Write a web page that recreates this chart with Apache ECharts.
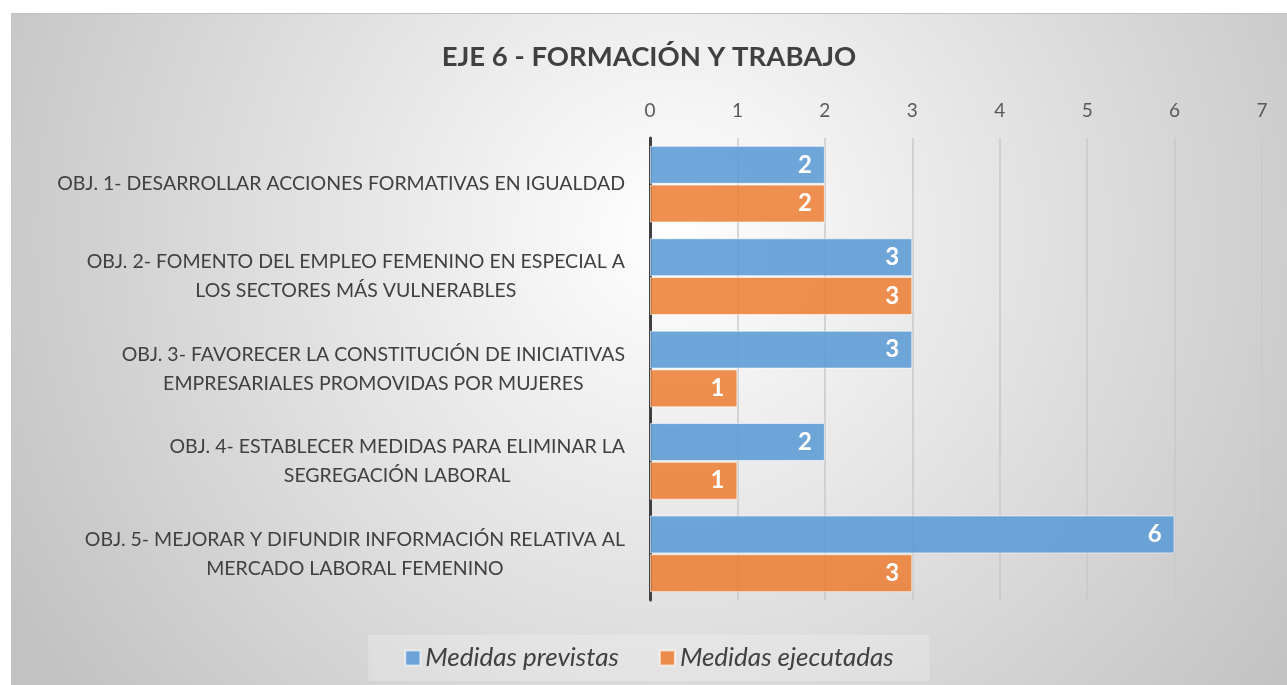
<!DOCTYPE html>
<html>
<head>
<meta charset="utf-8">
<script src="https://cdn.jsdelivr.net/npm/echarts@6/dist/echarts.min.js"></script>
<style>
html,body{margin:0;padding:0;background:#ffffff;}
#chart{position:absolute;left:11px;top:13px;width:1276px;height:672px;border-top:1px solid #c0c0c0;box-sizing:border-box;}
</style>
</head>
<body>
<div id="chart"></div>
<script>
var titleText = 'EJE 6 - FORMACIÓN Y TRABAJO';
var categories = [
  'OBJ. 1- DESARROLLAR ACCIONES FORMATIVAS EN IGUALDAD',
  'OBJ. 2- FOMENTO DEL EMPLEO FEMENINO EN ESPECIAL A\nLOS SECTORES MÁS VULNERABLES',
  'OBJ. 3- FAVORECER LA CONSTITUCIÓN DE INICIATIVAS\nEMPRESARIALES PROMOVIDAS POR MUJERES',
  'OBJ. 4- ESTABLECER MEDIDAS PARA ELIMINAR LA\nSEGREGACIÓN LABORAL',
  'OBJ. 5- MEJORAR Y DIFUNDIR INFORMACIÓN RELATIVA AL\nMERCADO LABORAL FEMENINO'
];
var seriesNames = ['Medidas previstas', 'Medidas ejecutadas'];
var previstas = [2, 3, 3, 2, 6];
var ejecutadas = [2, 3, 1, 1, 3];

var FONT = 'Lato, "Open Sans", sans-serif';
var chart = echarts.init(document.getElementById('chart'));
var labelStyle = {show:true, position:'insideRight', distance:13, color:'#ffffff', fontSize:24, fontWeight:'bold', fontFamily:FONT};
chart.setOption({
  backgroundColor: {type:'radial', x:660, y:220, r:760, global:true,
    colorStops:[{offset:0,color:'#ffffff'},{offset:1,color:'#c2c2c2'}]},
  title:{text:titleText, left:'center', top:24,
    textStyle:{fontFamily:FONT, fontSize:27.5, fontWeight:'bold', color:'#404040'}},
  legend:{bottom:4, left:'center', icon:'rect', itemWidth:15, itemHeight:15, itemGap:40,
    padding:[10,36], backgroundColor:'rgba(255,255,255,0.22)',
    textStyle:{fontFamily:FONT, fontSize:26, fontStyle:'italic', color:'#404040'},
    data:seriesNames},
  grid:{left:639, right:25, top:124, bottom:85},
  xAxis:{type:'value', position:'top', min:0, max:7, interval:1,
    axisLine:{show:false}, axisTick:{show:false},
    axisLabel:{fontFamily:FONT, fontSize:19, color:'#595959', margin:18},
    splitLine:{show:true, lineStyle:{color:'#c8c8c8', width:1.5}}},
  yAxis:{type:'category', inverse:true, data:categories,
    axisLine:{show:true, lineStyle:{color:'#404040', width:3}},
    axisTick:{show:false},
    axisLabel:{margin:25, align:'right', lineHeight:29,
      formatter:function(v){return v.split('\n').map(function(s){return '{c|'+s+'}';}).join('\n');},
      rich:{c:{align:'center', fontFamily:FONT, fontSize:19.5, color:'#404040', lineHeight:29}}}},
  series:[
    {name:seriesNames[0], type:'bar', data:previstas, barGap:'2%', barCategoryGap:'17%',
      itemStyle:{color:'rgba(91,155,213,0.88)', borderColor:'rgba(255,255,255,0.6)', borderWidth:1},
      label:labelStyle},
    {name:seriesNames[1], type:'bar', data:ejecutadas, barGap:'2%', barCategoryGap:'17%',
      itemStyle:{color:'rgba(237,125,49,0.85)', borderColor:'rgba(255,255,255,0.6)', borderWidth:1},
      label:labelStyle}
  ]
});
</script>
</body>
</html>
